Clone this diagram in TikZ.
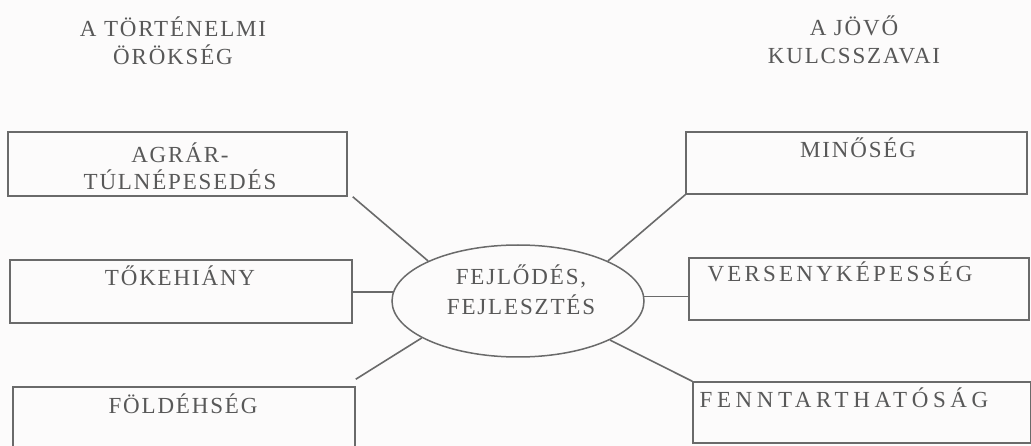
\documentclass[tikz,border=0pt]{standalone}
\usepackage{fontspec}
\setmainfont{Liberation Serif}[LetterSpace=8]
\newfontfamily\wideA{Liberation Serif}[LetterSpace=14]
\newfontfamily\wideB{Liberation Serif}[LetterSpace=20]
\usetikzlibrary{shapes.geometric}
\definecolor{ink}{HTML}{585858}
\definecolor{edge}{HTML}{6A6A6A}
\definecolor{paper}{HTML}{FCFBFB}
\begin{document}
\begin{tikzpicture}[x=1pt,y=-1pt,
  box/.style={draw=edge, line width=1.5pt, rectangle, inner sep=0pt},
  lbl/.style={text=ink, font=\fontsize{23}{27}\selectfont, inner sep=0pt, align=center, anchor=base},
  conn/.style={draw=edge, line width=1.6pt}]
\fill[paper] (0,0) rectangle (1031,446);
\useasboundingbox (0,0) rectangle (1031,446);
\begin{scope}
\clip (0,0) rectangle (1031,446);
% titles (anchor base = baseline of the last line)
\node[lbl, font=\fontsize{23}{28}\selectfont] (tl) at (173,65) {A TÖRTÉNELMI\\ÖRÖKSÉG};
\node[lbl, font=\fontsize{23}{28}\selectfont] (tr) at (854,64) {A JÖVŐ\\KULCSSZAVAI};
% left boxes
\node[box, minimum width=339pt, minimum height=64pt] (b1) at (177.5,164) {};
\node[box, minimum width=342pt, minimum height=63pt] (b2) at (181,291.5) {};
\node[box, minimum width=342pt, minimum height=65pt] (b3) at (184,419.5) {};
\node[lbl] (l1) at (180,190) {AGRÁR-\\TÚLNÉPESEDÉS};
\node[lbl] (l2) at (180,286) {TŐKEHIÁNY};
\node[lbl] (l3) at (183,413) {FÖLDÉHSÉG};
% right boxes
\node[box, minimum width=341pt, minimum height=62pt] (r1) at (856.5,163) {};
\node[box, minimum width=340pt, minimum height=62pt] (r2) at (859,289) {};
\node[box, minimum width=338pt, minimum height=61pt] (r3) at (862,412.5) {};
\node[lbl] (m1) at (858,158) {MINŐSÉG};
\node[lbl, font=\fontsize{23}{27}\selectfont\wideA] (m2) at (840,282) {VERSENYKÉPESSÉG};
\node[lbl, font=\fontsize{23}{27}\selectfont\wideB] (m3) at (844,407) {FENNTARTHATÓSÁG};
% centre
\node[draw=edge, line width=1.5pt, ellipse, minimum width=252pt, minimum height=112pt, inner sep=0pt] (e) at (518,301) {};
\node[lbl, font=\fontsize{23}{30}\selectfont] (et) at (521,315) {FEJLŐDÉS,\\FEJLESZTÉS};
% connectors
\draw[conn] ([xshift=5pt]b1.south east) -- (e.156);
\draw[conn] (e.176) -- (e.176 -| b2.east);
\draw[conn] ([yshift=7pt]b3.north east) -- (e.201);
\draw[conn] (r1.south west) -- (e.24);
\draw[conn] (e.2) -- (e.2 -| r2.west);
\draw[conn] (r3.north west) -- (e.337);
\end{scope}
\end{tikzpicture}
\end{document}
